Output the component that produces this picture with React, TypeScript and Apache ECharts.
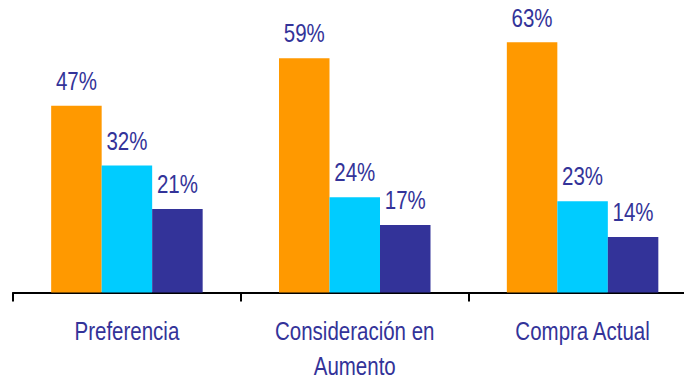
import React, { useEffect, useRef } from "react";
import * as echarts from "echarts";

const categories = ["Preferencia", "Consideración en\nAumento", "Compra Actual"];
const seriesNames = ["Serie 1", "Serie 2", "Serie 3"];
const serieA = [47, 59, 63];
const serieB = [32, 24, 23];
const serieC = [21, 17, 14];
const colors = ["#FF9900", "#00CCFF", "#333399"];

const FONT = "'Liberation Sans', Arial, sans-serif";
const TEXT_COLOR = "#333399";
const BAR_W = 50.5;
const SQUEEZE = 0.82;

export default function App() {
  const ref = useRef<HTMLDivElement>(null);
  useEffect(() => {
    document.body.style.margin = "0";
    if (!ref.current) return;
    const chart = echarts.init(ref.current, null, { renderer: "svg" });
    const values = [serieA, serieB, serieC];
    const bars = values.map((v, i) => ({
      name: seriesNames[i],
      type: "bar",
      data: v,
      barWidth: BAR_W,
      barGap: "0%",
      itemStyle: { color: colors[i] },
    }));
    const valueLabels = values.map((v, i) => ({
      name: seriesNames[i] + " etiqueta",
      type: "custom",
      clip: false,
      silent: true,
      data: v.map((val, j) => [j, val]),
      renderItem: (params: any, api: any) => {
        const p = api.coord([api.value(0), api.value(1)]);
        return {
          type: "text",
          x: p[0] + (i - 1) * BAR_W,
          y: p[1] - 12,
          scaleX: SQUEEZE,
          style: {
            text: api.value(1) + "%",
            fill: TEXT_COLOR,
            font: `25px ${FONT}`,
            align: "center",
            verticalAlign: "bottom",
          },
        };
      },
    }));
    const categoryLabels = {
      name: "categorias",
      type: "custom",
      clip: false,
      silent: true,
      data: categories.map((c, j) => [j, 0]),
      renderItem: (params: any, api: any) => {
        const idx = api.value(0);
        const p = api.coord([idx, 0]);
        return {
          type: "text",
          x: p[0],
          y: p[1] + 21,
          scaleX: SQUEEZE,
          style: {
            text: categories[idx],
            fill: TEXT_COLOR,
            font: `25px ${FONT}`,
            lineHeight: 35,
            align: "center",
            verticalAlign: "top",
          },
        };
      },
    };
    chart.setOption({
      animation: false,
      grid: { left: 13, right: 3.5, top: 14.5, bottom: 88.5 },
      xAxis: {
        type: "category",
        data: categories,
        axisLine: { show: true, lineStyle: { color: "#000", width: 2 } },
        axisTick: { show: true, length: 9, lineStyle: { color: "#000", width: 2 } },
        axisLabel: { show: false },
      },
      yAxis: {
        type: "value",
        min: 0,
        max: 70,
        show: false,
        splitLine: { show: false },
      },
      series: [...bars, ...valueLabels, categoryLabels],
    });
    return () => chart.dispose();
  }, []);
  return (
    <div style={{ width: 684, height: 381, overflow: "hidden", position: "relative" }}>
      <div ref={ref} style={{ width: 700, height: 381 }} />
    </div>
  );
}
